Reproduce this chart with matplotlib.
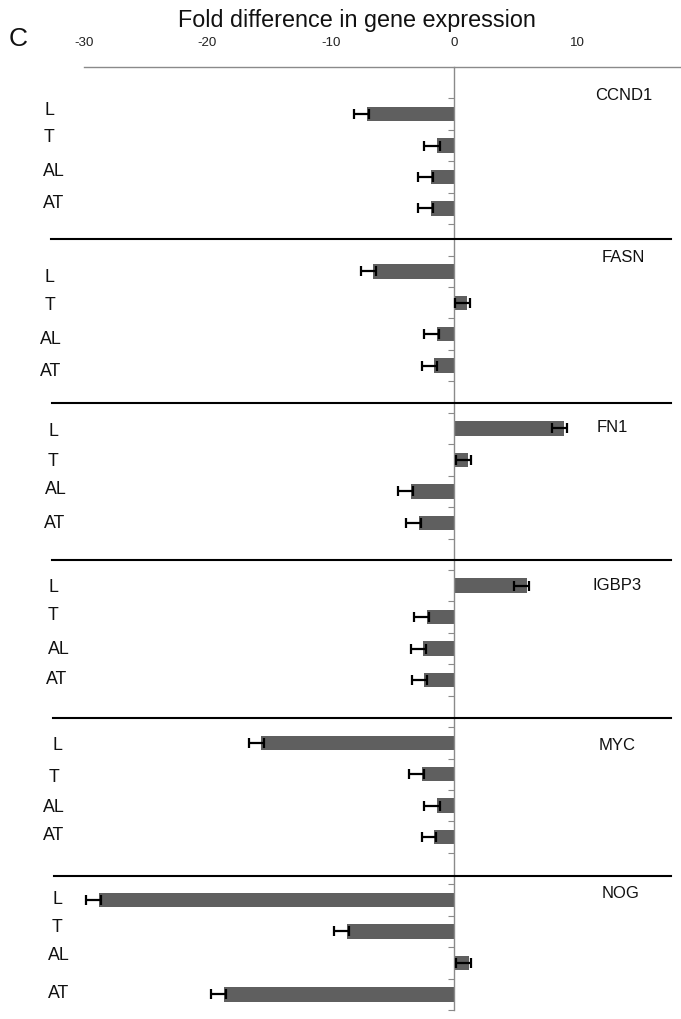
import matplotlib
matplotlib.use("Agg")
import matplotlib.pyplot as plt
from matplotlib.lines import Line2D

# ---------------- data ----------------
genes = ["CCND1", "FASN", "FN1", "IGBP3", "MYC", "NOG"]
conditions = ["L", "T", "AL", "AT"]

ccnd1 = [-7.10, -1.39, -1.92, -1.92]
fasn = [-6.58, 1.05, -1.44, -1.63]
fn1 = [8.91, 1.13, -3.52, -2.87]
igbp3 = [5.86, -2.23, -2.52, -2.44]
myc = [-15.63, -2.65, -1.38, -1.65]
nog = [-28.80, -8.71, 1.18, -18.66]

ccnd1_err = [1.05, 1.08, 1.06, 1.06]
fasn_err = [1.00, 0.98, 1.03, 1.00]
fn1_err = [1.02, 1.00, 1.03, 1.06]
igbp3_err = [1.02, 1.05, 1.02, 1.02]
myc_err = [1.00, 1.03, 1.06, 1.00]
nog_err = [1.00, 1.05, 1.05, 1.02]
err_plus = 0.2

xticks = [-30, -20, -10, 0, 10]
title = "Fold difference in gene expression"
panel = "C"

values = [ccnd1, fasn, fn1, igbp3, myc, nog]
errors = [ccnd1_err, fasn_err, fn1_err, igbp3_err, myc_err, nog_err]

# ---------------- layout ----------------
W, H = 681, 1019
FONT = ["Liberation Sans", "DejaVu Sans"]
plt.rcParams["font.family"] = FONT

fig = plt.figure(figsize=(W / 100, H / 100), dpi=100)

def fx(px):
    return px / W

def fy(py):
    return 1 - py / H

ax_left, ax_right, ax_top, ax_bottom = 84, 681, 67, 1010
ax = fig.add_axes([fx(ax_left), fy(ax_bottom), fx(ax_right - ax_left), (ax_bottom - ax_top) / H])

slot = 5  # 4 bars + one blank per gene
bar_color = "#5f5f5f"
axis_gray = "#8a8a8a"

for g, (vals, errs) in enumerate(zip(values, errors)):
    ys = [g * slot + i + 0.5 for i in range(len(conditions))]
    ax.barh(ys, vals, height=0.46, color=bar_color, zorder=2)
    ax.errorbar(vals, ys, xerr=[errs, [err_plus] * len(vals)], fmt="none",
                ecolor="black", elinewidth=1.6, capsize=3.5, capthick=1.6, zorder=3)

n_slots = slot * len(genes) - 1
ax.set_ylim(n_slots, -1)
ax.set_xlim(-30, (ax_right - 454.4) / 12.34)

ax.spines["left"].set_position(("data", 0))
ax.spines["left"].set_color(axis_gray)
ax.spines["left"].set_linewidth(1.0)
ax.spines["top"].set_color(axis_gray)
ax.spines["top"].set_linewidth(1.0)
ax.spines["right"].set_visible(False)
ax.spines["bottom"].set_visible(False)

ax.set_yticks(range(0, n_slots + 1))
ax.set_yticklabels([])
ax.tick_params(axis="y", direction="out", length=4, width=0.8, color=axis_gray)

ax.xaxis.tick_top()
ax.set_xticks(xticks)
ax.set_xticklabels([str(t) for t in xticks])
ax.tick_params(axis="x", length=0, pad=13, labelsize=9.6, labelcolor="#222222")

# separator lines between genes (px)
sep_y = [239, 403.3, 559.7, 717.7, 875.7]
sep_x0 = [51, 52, 52, 53, 54]
for y, x0 in zip(sep_y, sep_x0):
    fig.add_artist(Line2D([fx(x0), fx(671)], [fy(y), fy(y)], color="black", lw=1.5))

# row labels (px positions)
row_x = [[45, 44, 43, 43], [45, 45, 40, 40], [48, 48, 45, 44],
         [49, 48, 48, 46], [53, 49, 43, 43], [53, 52, 48, 48]]
row_y = [[110.5, 138, 171.5, 203], [278, 305, 340, 371], [431.5, 461, 489.7, 523],
         [588, 615, 649.7, 680], [746, 778, 808, 835], [899.5, 928, 956, 993]]
for g in range(len(genes)):
    for i, c in enumerate(conditions):
        fig.text(fx(row_x[g][i]), fy(row_y[g][i]), c, ha="left", va="center",
                 fontsize=12.8, color="#111111")

# gene labels (px positions)
gene_x = [595, 602, 597, 592, 599, 602]
gene_y = [95, 258, 428, 586, 746, 893]
for g, name in enumerate(genes):
    fig.text(fx(gene_x[g]), fy(gene_y[g]), name, ha="left", va="center",
             fontsize=12, color="#111111")

fig.text(fx(357), fy(20), title, ha="center", va="center", fontsize=16.8, color="#111111")
fig.text(fx(9), fy(39), panel, ha="left", va="center", fontsize=19, color="#111111")

fig.savefig("out.png", dpi=100)
